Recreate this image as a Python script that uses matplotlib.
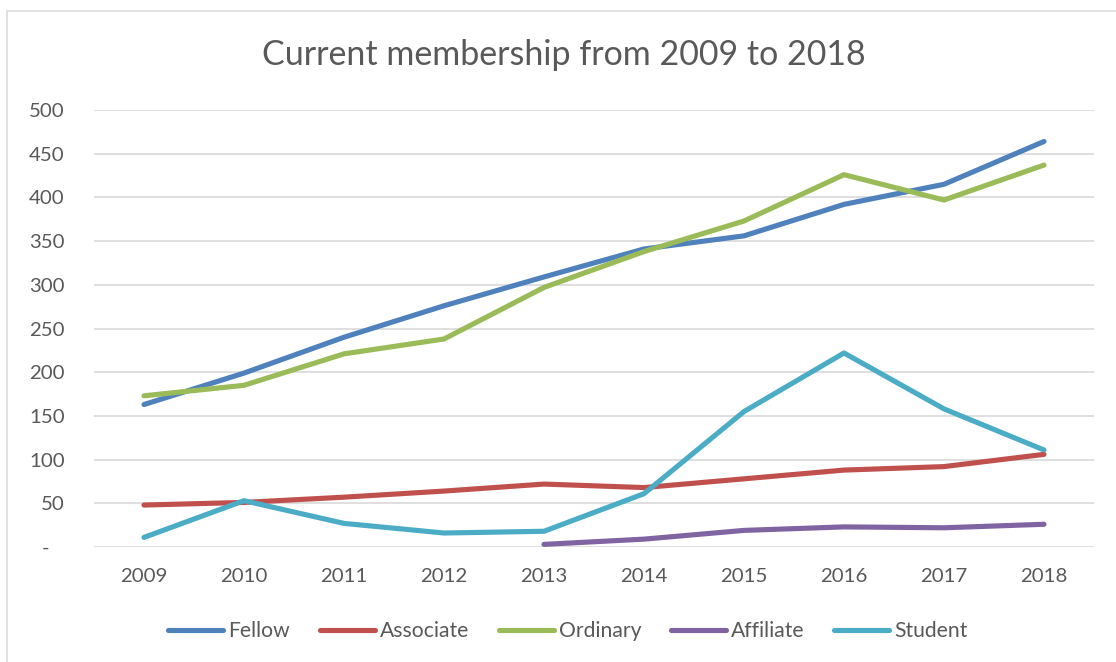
import matplotlib
matplotlib.use("Agg")
import matplotlib.pyplot as plt
from matplotlib.patches import Rectangle

years = ["2009", "2010", "2011", "2012", "2013", "2014", "2015", "2016", "2017", "2018"]
fellow = [163, 199, 240, 276, 309, 341, 356, 392, 415, 464]
associate = [48, 51, 57, 64, 72, 68, 78, 88, 92, 106]
ordinary = [173, 185, 221, 238, 297, 338, 373, 426, 397, 437]
affiliate = [None, None, None, None, 3, 9, 19, 23, 22, 26]
student = [11, 53, 27, 16, 18, 61, 155, 222, 158, 111]

series = [
    ("Fellow", fellow, "#4F81BD"),
    ("Associate", associate, "#C0504D"),
    ("Ordinary", ordinary, "#9BBB59"),
    ("Affiliate", affiliate, "#8064A2"),
    ("Student", student, "#4BACC6"),
]

yticks = [0, 50, 100, 150, 200, 250, 300, 350, 400, 450, 500]
# accounting-style zero: a dash padded with trailing no-break spaces
ytick_labels = ["-\u00a0\u00a0\u00a0", "50", "100", "150", "200", "250", "300", "350",
                "400", "450", "500"]

text_color = "#595959"
grid_color = "#D9D9D9"
plt.rcParams["font.family"] = ["Lato", "DejaVu Sans"]

W, H = 1116, 662
fig = plt.figure(figsize=(W / 100, H / 100), dpi=100)
ax = fig.add_axes([94 / W, 1 - 547 / H, 1000 / W, 437 / H])

# chart-area frame (open to the right and bottom)
fig.patches.append(Rectangle((7 / W, -0.2), 1.5, 1.2 - 11 / H, transform=fig.transFigure,
                             fill=False, edgecolor=grid_color, linewidth=1.1))

x = list(range(len(years)))
for name, vals, color in series:
    xs = [i for i, v in zip(x, vals) if v is not None]
    ys = [v for v in vals if v is not None]
    ax.plot(xs, ys, color=color, linewidth=3.7, solid_capstyle="round",
            solid_joinstyle="round", label=name)

ax.set_xlim(-0.5, len(years) - 0.5)
ax.set_ylim(0, 500)
ax.set_xticks(x)
ax.set_xticklabels(years)
ax.set_yticks(yticks)
ax.set_yticklabels(ytick_labels)
ax.yaxis.grid(True, color=grid_color, linewidth=1.2)
ax.set_axisbelow(True)
for s in ax.spines.values():
    s.set_visible(False)
ax.tick_params(axis="both", length=0, labelsize=14.7, labelcolor=text_color)
ax.tick_params(axis="y", pad=21)
ax.tick_params(axis="x", pad=15)

fig.text(564 / W, 1 - 55 / H, "Current membership from 2009 to 2018",
         ha="center", va="center", fontsize=24.5, color=text_color)

leg = fig.legend(loc="center", bbox_to_anchor=(568 / W, 1 - 631 / H), ncol=5,
                 frameon=False, fontsize=15.2, handlelength=2.6, handletextpad=0.25,
                 columnspacing=1.4)
for t in leg.get_texts():
    t.set_color(text_color)

fig.savefig("out.png", dpi=100)
